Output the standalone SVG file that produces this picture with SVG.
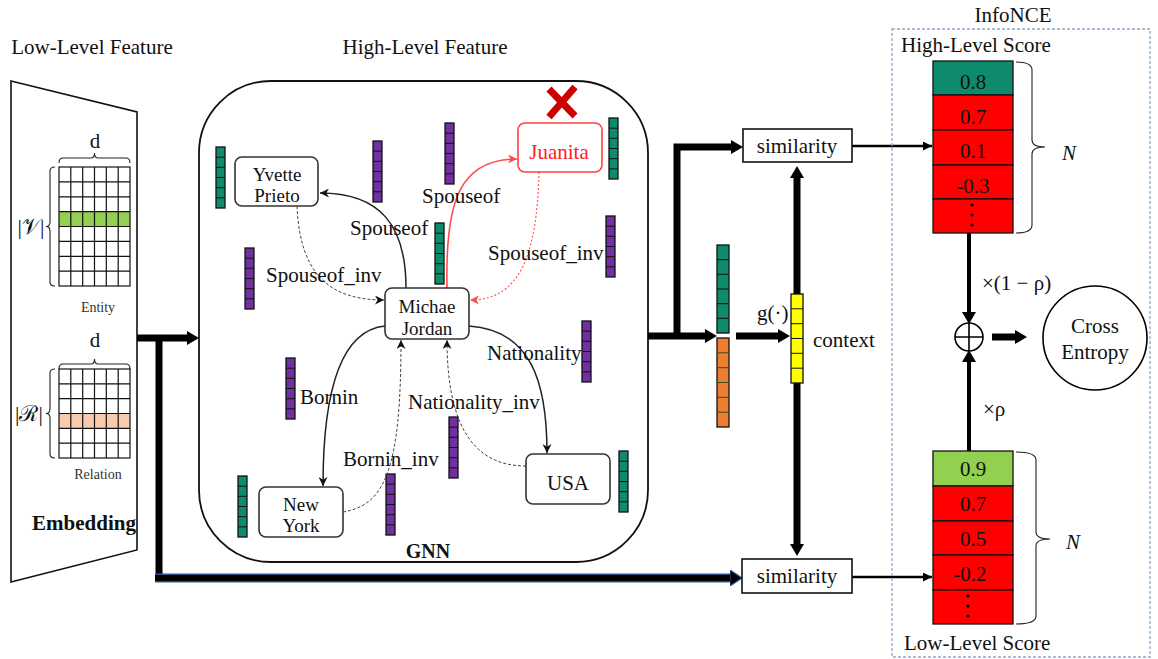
<svg xmlns="http://www.w3.org/2000/svg" xmlns:xlink="http://www.w3.org/1999/xlink" width="1158" height="659" viewBox="0 0 1158 659">
<style>
text{font-family:"Liberation Serif","Times New Roman",serif;fill:#111;}
.t{font-size:21px;}
.n2{font-size:19px;}
.c{text-anchor:middle;}
.sm{font-size:14px;fill:#333;}
.node{fill:#fff;stroke:#333;stroke-width:1.6;}
.edge{fill:none;stroke:#222;stroke-width:1.5;}
.dash{fill:none;stroke:#444;stroke-width:1;stroke-dasharray:3 2;}
.red{fill:none;stroke:#ff4a4a;stroke-width:1.6;}
.reddash{fill:none;stroke:#ff5a5a;stroke-width:1.2;stroke-dasharray:2 2;}
.thick{fill:none;stroke:#000;stroke-width:7;}
.grid{fill:none;stroke:#111;stroke-width:1.2;}
.cell{stroke:#111;stroke-width:1.3;}
</style>
<defs>
<marker id="ah" viewBox="0 0 10 10" refX="10" refY="5" markerWidth="9" markerHeight="9" markerUnits="userSpaceOnUse" orient="auto"><path d="M0,0 L10,5 L0,10 L3,5 z" fill="#111"/></marker>
<marker id="ahr" viewBox="0 0 10 10" refX="10" refY="5" markerWidth="9" markerHeight="9" markerUnits="userSpaceOnUse" orient="auto"><path d="M0,0 L10,5 L0,10 L3,5 z" fill="#ff4a4a"/></marker>
<marker id="aht" viewBox="0 0 12 14" refX="0" refY="7" markerWidth="12" markerHeight="14" markerUnits="userSpaceOnUse" orient="auto"><path d="M0,0 L12,7 L0,14 z" fill="#000"/></marker>
<marker id="ahb" viewBox="0 0 12 16" refX="0" refY="8" markerWidth="12" markerHeight="16" markerUnits="userSpaceOnUse" orient="auto"><path d="M0,0 L12,8 L0,16 z" fill="#000" stroke="#2f4f8f" stroke-width="1.2"/></marker>
<marker id="ahm" viewBox="0 0 10 10" refX="10" refY="5" markerWidth="9" markerHeight="9" markerUnits="userSpaceOnUse" orient="auto"><path d="M0,0 L10,5 L0,10 z" fill="#000"/></marker>
<g id="vt"><rect x="0" y="0" width="9" height="61" fill="#0e8a6c" class="cell"/><path d="M0,10.2H9M0,20.3H9M0,30.5H9M0,40.7H9M0,50.8H9" stroke="#111" stroke-width="1"/></g>
<g id="vp"><rect x="0" y="0" width="9" height="61" fill="#7030a0" class="cell"/><path d="M0,10.2H9M0,20.3H9M0,30.5H9M0,40.7H9M0,50.8H9" stroke="#111" stroke-width="1"/></g>
</defs>
<rect width="1158" height="659" fill="#fff"/>

<!-- titles -->
<text class="t" x="92" y="54" text-anchor="middle">Low-Level Feature</text>
<text class="t" x="425" y="54" text-anchor="middle">High-Level Feature</text>

<!-- Embedding -->
<g id="embedding">
<polygon points="11,81 137,112 137,550 11,582" fill="#fff" stroke="#111" stroke-width="1.6"/>
<text class="t c" x="95" y="148">d</text>
<path d="M59,163 Q59,158 63,158 H91 Q94.5,158 94.5,153 Q94.5,158 98,158 H126 Q130,158 130,163" fill="none" stroke="#222" stroke-width="1.1"/>
<rect x="59" y="211.6" width="71" height="14.9" fill="#92d050"/>
<rect x="59" y="167" width="71" height="119" class="grid" stroke-width="1.6"/>
<path class="grid" d="M70.8,167V286M82.7,167V286M94.5,167V286M106.3,167V286M118.2,167V286M59,181.9H130M59,196.8H130M59,211.6H130M59,226.5H130M59,241.4H130M59,256.3H130M59,271.1H130"/>
<path d="M55,167 Q50,167 50,171 V222 Q50,226.5 46,226.5 Q50,226.5 50,231 V282 Q50,286 55,286" fill="none" stroke="#222" stroke-width="1.1"/>
<text x="31" y="234" text-anchor="middle" style="font-size:22px">|𝒱|</text>
<text class="sm c" x="98" y="312">Entity</text>

<text class="t c" x="95" y="347">d</text>
<path d="M59,369 Q59,364 63,364 H91 Q94.5,364 94.5,359 Q94.5,364 98,364 H126 Q130,364 130,369" fill="none" stroke="#222" stroke-width="1.1"/>
<rect x="59" y="413.5" width="71" height="14.8" fill="#f8cbad"/>
<rect x="59" y="369" width="71" height="89" class="grid" stroke-width="1.6"/>
<path class="grid" d="M70.8,369V458M82.7,369V458M94.5,369V458M106.3,369V458M118.2,369V458M59,383.8H130M59,398.7H130M59,413.5H130M59,428.3H130M59,443.2H130"/>
<path d="M55,369 Q50,369 50,373 V409 Q50,413.5 46,413.5 Q50,413.5 50,418 V454 Q50,458 55,458" fill="none" stroke="#222" stroke-width="1.1"/>
<text x="29" y="421" text-anchor="middle" style="font-size:22px">|ℛ|</text>
<text class="sm c" x="98" y="479">Relation</text>
<text x="84" y="530" text-anchor="middle" style="font-size:21px;font-weight:bold">Embedding</text>
</g>

<!-- GNN container -->
<g id="gnn">
<rect x="199" y="81" width="449" height="481" rx="72" ry="72" fill="none" stroke="#111" stroke-width="1.8"/>
<text x="428" y="558" text-anchor="middle" style="font-size:20px;font-weight:bold">GNN</text>
</g>

<!-- vectors in GNN -->
<g id="vectors">
<use href="#vt" x="216" y="147"/>
<use href="#vt" x="435" y="223"/>
<use href="#vt" x="609" y="118"/>
<use href="#vt" x="238" y="476"/>
<use href="#vt" x="619" y="451"/>
<use href="#vp" x="373" y="141"/>
<use href="#vp" x="445" y="123"/>
<use href="#vp" x="245" y="248"/>
<use href="#vp" x="606" y="216"/>
<use href="#vp" x="286" y="358"/>
<use href="#vp" x="386" y="474"/>
<use href="#vp" x="582" y="321"/>
<use href="#vp" x="449" y="417"/>
</g>

<!-- connectors -->
<g id="connectors">
<path class="edge" d="M406,288 C406,225 380,193 320,193" marker-end="url(#ah)"/>
<path class="dash" d="M297,206 C300,275 330,300 384,300" marker-end="url(#ah)"/>
<path class="red" d="M447,288 C445,200 460,159 517,159" marker-end="url(#ahr)"/>
<path class="reddash" d="M539,172 C537,255 520,300 470,300" marker-end="url(#ahr)"/>
<path class="edge" d="M385,326 C345,330 323,380 323,486" marker-end="url(#ah)"/>
<path class="dash" d="M343,512 C385,505 401,470 401,340" marker-end="url(#ah)"/>
<path class="edge" d="M469,326 C530,330 547,380 547,453" marker-end="url(#ah)"/>
<path class="dash" d="M526,466 C470,466 447,420 447,340" marker-end="url(#ah)"/>

<path class="thick" d="M137,338 H187" marker-end="url(#aht)"/>
<path class="thick" d="M159,338 V581"/>
<path d="M155,578 H730" fill="none" stroke="#2f4f8f" stroke-width="9"/>
<path d="M155,578 H730" fill="none" stroke="#000" stroke-width="6" marker-end="url(#ahb)"/>
<path class="thick" d="M648,336 H705" marker-end="url(#aht)"/>
<path class="thick" d="M677,339 V147 H731" marker-end="url(#aht)"/>
<path class="thick" d="M736,336 H778" marker-end="url(#aht)"/>
<path class="thick" d="M797,294 V178" marker-end="url(#aht)"/>
<path class="thick" d="M797,383 V544" marker-end="url(#aht)"/>
<path d="M852,146 H932" fill="none" stroke="#000" stroke-width="2.5" marker-end="url(#ahm)"/>
<path d="M852,577 H932" fill="none" stroke="#000" stroke-width="2.5" marker-end="url(#ahm)"/>
<path d="M969,233 V312" fill="none" stroke="#000" stroke-width="4" marker-end="url(#aht)"/>
<path d="M969,451 V362" fill="none" stroke="#000" stroke-width="4" marker-end="url(#aht)"/>
<path class="thick" d="M992,337 H1015" marker-end="url(#aht)"/>
</g>

<!-- edge labels -->
<g id="edge-labels" class="t">
<text x="350" y="235">Spouseof</text>
<text x="422" y="203">Spouseof</text>
<text x="266" y="282">Spouseof_inv</text>
<text x="488" y="260">Spouseof_inv</text>
<text x="300" y="404">Bornin</text>
<text x="343" y="466">Bornin_inv</text>
<text x="487" y="360">Nationality</text>
<text x="408" y="409">Nationality_inv</text>
</g>

<!-- KG nodes -->
<g id="node-yvette">
<rect x="235" y="157" width="83" height="49" rx="7" class="node"/>
<text class="n2 c" x="277" y="180.5"><tspan x="277">Yvette</tspan><tspan x="277" dy="21.5">Prieto</tspan></text>
</g>
<g id="node-juanita">
<rect x="518" y="123" width="84" height="49" rx="7" fill="#fff" stroke="#ff4040" stroke-width="1.6"/>
<text class="t c" x="559" y="159" style="fill:#ff2020">Juanita</text>
<path d="M549,89 L575,116 M575,87 L549,117" stroke="#cc0000" stroke-width="7" stroke-linecap="butt"/>
</g>
<g id="node-michael">
<rect x="385" y="288" width="84" height="51" rx="7" class="node"/>
<text class="n2 c" x="427" y="313"><tspan x="427">Michae</tspan><tspan x="427" dy="21.5">Jordan</tspan></text>
</g>
<g id="node-newyork">
<rect x="259" y="487" width="84" height="50" rx="7" class="node"/>
<text class="n2 c" x="301" y="510.5"><tspan x="301">New</tspan><tspan x="301" dy="21.5">York</tspan></text>
</g>
<g id="node-usa">
<rect x="526" y="454" width="84" height="50" rx="7" class="node"/>
<text class="t c" x="568" y="490">USA</text>
</g>

<!-- aggregated vectors -->
<g id="vec-high">
<rect x="717" y="245" width="12" height="88" fill="#0e8a6c" class="cell"/>
<path d="M717,259.7H729M717,274.3H729M717,289H729M717,303.7H729M717,318.3H729" stroke="#111" stroke-width="1"/>
</g>
<g id="vec-low">
<rect x="717" y="338" width="12" height="89" fill="#ed7d31" class="cell"/>
<path d="M717,352.8H729M717,367.7H729M717,382.5H729M717,397.3H729M717,412.2H729" stroke="#3a4a20" stroke-width="1"/>
</g>
<g id="vec-context">
<rect x="791" y="294" width="12" height="89" fill="#ffff00" class="cell"/>
<path d="M791,308.8H803M791,323.7H803M791,338.5H803M791,353.3H803M791,368.2H803" stroke="#111" stroke-width="1"/>
<text class="t" x="757" y="320">g(·)</text>
<text class="t" x="813" y="347">context</text>
</g>

<g id="sim-high">
<rect x="743" y="129" width="109" height="33" fill="#fff" stroke="#111" stroke-width="1.6"/>
<text class="t c" x="797" y="153">similarity</text>
</g>
<g id="sim-low">
<rect x="742" y="559" width="110" height="34" fill="#fff" stroke="#111" stroke-width="1.6"/>
<text class="t c" x="797" y="583">similarity</text>
</g>

<!-- InfoNCE -->
<g id="infonce">
<rect x="892" y="29" width="258" height="628" fill="none" stroke="#8ea9c8" stroke-width="1.3" stroke-dasharray="3 2"/>
<text class="t c" x="1013" y="22">InfoNCE</text>
<text class="t" x="901" y="52">High-Level Score</text>
<text class="t" x="904" y="650">Low-Level Score</text>
</g>

<g id="high-score">
<rect x="933" y="61" width="80" height="34" fill="#0e8a6c" class="cell" stroke-width="1.5"/>
<rect x="933" y="95" width="80" height="35" fill="#ff0000" class="cell" stroke-width="1.5"/>
<rect x="933" y="130" width="80" height="35" fill="#ff0000" class="cell" stroke-width="1.5"/>
<rect x="933" y="165" width="80" height="34" fill="#ff0000" class="cell" stroke-width="1.5"/>
<rect x="933" y="199" width="80" height="34" fill="#ff0000" class="cell" stroke-width="1.5"/>
<text class="t c" x="973" y="89">0.8</text>
<text class="t c" x="973" y="124">0.7</text>
<text class="t c" x="973" y="158">0.1</text>
<text class="t c" x="973" y="193">-0.3</text>
<circle cx="972" cy="205" r="1.6" fill="#000"/><circle cx="972" cy="215" r="1.6" fill="#000"/><circle cx="972" cy="225" r="1.6" fill="#000"/>
<path d="M1016,62 Q1032,62 1032,70 V140 Q1032,147 1045,147 Q1032,147 1032,154 V225 Q1032,233 1016,233" fill="none" stroke="#222" stroke-width="1.1"/>
<text class="t" x="1062" y="160" font-style="italic">N</text>
<text class="t" x="982" y="290">×(1 − ρ)</text>
</g>

<g id="low-score">
<rect x="933" y="451" width="80" height="35" fill="#92d050" class="cell" stroke-width="1.5"/>
<rect x="933" y="486" width="80" height="35" fill="#ff0000" class="cell" stroke-width="1.5"/>
<rect x="933" y="521" width="80" height="34" fill="#ff0000" class="cell" stroke-width="1.5"/>
<rect x="933" y="555" width="80" height="35" fill="#ff0000" class="cell" stroke-width="1.5"/>
<rect x="933" y="590" width="80" height="34" fill="#ff0000" class="cell" stroke-width="1.5"/>
<text class="t c" x="973" y="476">0.9</text>
<text class="t c" x="973" y="511">0.7</text>
<text class="t c" x="973" y="546">0.5</text>
<text class="t c" x="970" y="581">-0.2</text>
<circle cx="968" cy="596" r="1.6" fill="#000"/><circle cx="968" cy="606" r="1.6" fill="#000"/><circle cx="968" cy="616" r="1.6" fill="#000"/>
<path d="M1016,452 Q1036,452 1036,460 V532 Q1036,539 1050,539 Q1036,539 1036,546 V616 Q1036,624 1016,624" fill="none" stroke="#222" stroke-width="1.1"/>
<text class="t" x="1066" y="549" font-style="italic">N</text>
<text class="t" x="983" y="416">×ρ</text>
</g>

<g id="oplus">
<circle cx="969" cy="337" r="14" fill="#fff" stroke="#000" stroke-width="1.6"/>
<path d="M955,337 H983 M969,323 V351" stroke="#000" stroke-width="1.6"/>
</g>
<g id="cross-entropy">
<circle cx="1095" cy="338" r="52" fill="#fff" stroke="#000" stroke-width="1.6"/>
<text class="t c" x="1095" y="333"><tspan x="1095">Cross</tspan><tspan x="1095" dy="26">Entropy</tspan></text>
</g>
</svg>
